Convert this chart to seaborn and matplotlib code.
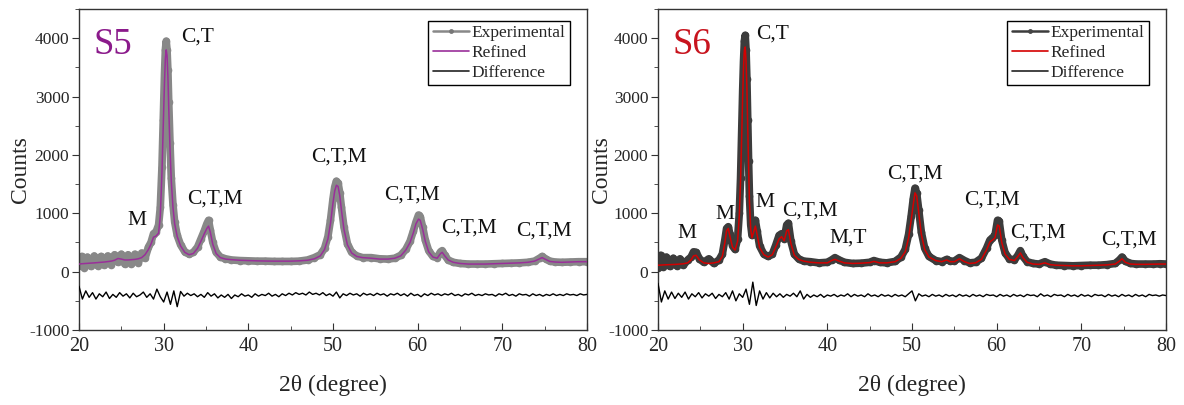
import numpy as np
import pandas as pd
import seaborn as sns
import matplotlib
matplotlib.use("Agg")
import matplotlib.pyplot as plt
from matplotlib.lines import Line2D
from matplotlib.ticker import MultipleLocator

# ---------------- data ----------------
s5_x = [20.0, 20.3, 20.6, 21.0, 21.4, 21.8, 22.2, 22.6, 23.0, 23.4, 23.8, 24.2, 24.6, 25.0, 25.4,
        25.8, 26.2, 26.6, 27.0, 27.4, 27.8, 28.2, 28.5, 28.8, 29.1, 29.4, 29.6, 29.8, 29.95, 30.1,
        30.2, 30.3, 30.4, 30.5, 30.6, 30.75, 30.9, 31.1, 31.3, 31.6, 32.0, 32.5, 33.0, 33.5, 34.0,
        34.4, 34.8, 35.1, 35.3, 35.5, 35.8, 36.2, 36.7, 37.3, 38.0, 39.0, 40.0, 41.0, 42.0, 43.0,
        44.0, 45.0, 46.0, 47.0, 47.8, 48.5, 49.0, 49.4, 49.7, 50.0, 50.2, 50.4, 50.6, 50.8, 51.0,
        51.3, 51.7, 52.2, 52.8, 53.5, 54.5, 55.5, 56.5, 57.3, 58.0, 58.6, 59.1, 59.5, 59.8, 60.1,
        60.3, 60.6, 60.9, 61.3, 61.8, 62.3, 62.7, 62.9, 63.2, 63.6, 64.2, 65.0, 66.0, 67.0, 68.0,
        69.0, 70.0, 71.0, 72.0, 73.0, 73.8, 74.4, 74.7, 75.1, 75.6, 76.2, 77.0, 78.0, 79.0, 80.0]
s5_exp = [90, 260, 70, 250, 90, 270, 100, 260, 110, 270, 120, 290, 160, 300, 130,
          290, 130, 300, 150, 320, 230, 420, 500, 650, 680, 800, 1100, 1800, 2600, 3400,
          3800, 3950, 3800, 3450, 2900, 2200, 1600, 1150, 850, 620, 460, 340, 300, 330, 420,
          560, 700, 820, 880, 720, 500, 330, 250, 220, 200, 190, 185, 180, 180, 175,
          175, 175, 180, 200, 240, 290, 400, 600, 880, 1250, 1450, 1550, 1520, 1350, 1100,
          760, 480, 330, 270, 240, 240, 220, 215, 230, 280, 380, 520, 700, 850, 970,
          940, 760, 540, 360, 260, 240, 340, 360, 280, 200, 160, 140, 130, 130, 130,
          135, 140, 145, 150, 160, 180, 230, 260, 220, 180, 165, 160, 165, 170, 170]
s5_fit = [130, 135, 138, 142, 146, 150, 155, 160, 165, 172, 180, 195, 225, 215, 200,
          200, 205, 210, 220, 240, 290, 380, 470, 590, 610, 660, 950, 1700, 2500, 3250,
          3650, 3800, 3700, 3350, 2800, 2100, 1550, 1100, 820, 600, 440, 330, 290, 310, 400,
          520, 650, 740, 780, 680, 470, 310, 240, 215, 205, 195, 190, 185, 182, 180,
          180, 180, 185, 195, 220, 270, 380, 560, 820, 1180, 1380, 1480, 1460, 1300, 1050,
          720, 460, 320, 260, 240, 230, 215, 215, 230, 270, 370, 500, 670, 820, 900,
          880, 720, 520, 340, 250, 230, 310, 330, 270, 200, 160, 140, 130, 130, 130,
          135, 140, 145, 150, 160, 180, 220, 240, 210, 175, 165, 160, 165, 170, 170]
s5_diff = [-250, -470, -330, -440, -360, -470, -380, -430, -350, -460, -390, -440, -360, -420, -380,
           -450, -370, -430, -400, -350, -440, -380, -470, -300, -430, -520, -350, -560, -330, -600,
           -340, -420, -370, -410, -380, -430, -390, -440, -360, -420, -380, -450, -400, -440, -390,
           -460, -400, -430, -380, -420, -400, -440, -380, -420, -390, -410, -370, -420, -390, -430,
           -380, -410, -370, -400, -360, -390, -370, -400, -350, -390, -370, -400, -360, -410, -380,
           -420, -350, -450, -380, -410, -370, -400, -380, -420, -370, -400, -380, -410, -370, -400,
           -380, -420, -380, -400, -370, -410, -380, -420, -370, -410, -390, -430, -380, -410, -370,
           -400, -380, -410, -380, -400, -370, -410, -390, -420, -380, -400, -370, -410, -390, -410,
           -380, -400, -390, -420, -380, -400, -370, -410, -390, -420, -380, -400, -390, -420, -380,
           -410, -390, -420, -390, -410, -380, -410, -390, -410, -380, -400, -390, -410, -380, -400,
           -390]

s6_x = [20.0, 20.3, 20.6, 21.0, 21.4, 21.8, 22.2, 22.6, 23.0, 23.5, 23.9, 24.2, 24.5, 24.9, 25.4,
        26.0, 26.6, 27.2, 27.6, 27.9, 28.1, 28.3, 28.5, 28.8, 29.1, 29.4, 29.6, 29.75, 29.9, 30.0,
        30.1, 30.2, 30.3, 30.4, 30.5, 30.6, 30.7, 30.8, 30.95, 31.1, 31.3, 31.5, 31.7, 32.0, 32.5,
        33.0, 33.5, 33.9, 34.3, 34.6, 34.9, 35.2, 35.4, 35.7, 36.1, 36.6, 37.2, 38.0, 39.0, 40.0,
        40.5, 40.9, 41.4, 42.0, 43.0, 44.0, 45.0, 45.5, 46.2, 47.0, 48.0, 48.7, 49.2, 49.6, 49.9,
        50.15, 50.35, 50.55, 50.8, 51.1, 51.5, 52.0, 52.8, 53.5, 54.1, 54.5, 55.0, 55.6, 56.2, 56.8,
        57.5, 58.2, 58.8, 59.2, 59.5, 59.8, 60.1, 60.3, 60.6, 61.0, 61.5, 62.1, 62.5, 62.8, 63.1,
        63.6, 64.3, 65.0, 65.7, 66.3, 67.0, 68.0, 69.0, 70.0, 71.0, 72.0, 73.0, 74.0, 74.5, 74.8,
        75.2, 75.8, 76.5, 77.5, 78.5, 79.3, 80.0]
s6_exp = [60, 280, 80, 250, 90, 230, 100, 220, 110, 200, 250, 340, 330, 220, 160,
          220, 140, 200, 300, 550, 740, 770, 640, 440, 380, 560, 1000, 1600, 2500, 3100,
          3600, 3950, 4050, 3800, 3300, 2600, 1900, 1300, 800, 620, 720, 880, 700, 440, 300,
          260, 300, 450, 620, 650, 560, 800, 830, 520, 300, 220, 180, 170, 150, 160,
          200, 240, 200, 160, 140, 145, 160, 190, 160, 150, 175, 250, 380, 640, 950,
          1250, 1430, 1350, 1050, 680, 400, 260, 190, 170, 210, 180, 180, 240, 190, 150,
          160, 230, 400, 540, 580, 620, 880, 860, 540, 320, 220, 200, 280, 360, 260,
          170, 140, 130, 170, 130, 110, 105, 100, 105, 110, 110, 120, 140, 200, 250,
          180, 140, 130, 130, 130, 135, 130]
s6_fit = [110, 112, 115, 118, 120, 122, 125, 130, 135, 150, 200, 270, 280, 200, 150,
          140, 150, 170, 260, 500, 700, 740, 600, 420, 370, 520, 950, 1550, 2400, 3000,
          3500, 3800, 3850, 3600, 3150, 2450, 1800, 1200, 720, 580, 680, 780, 640, 410, 290,
          250, 290, 420, 560, 600, 530, 700, 720, 480, 280, 210, 180, 160, 150, 150,
          190, 210, 180, 150, 140, 145, 155, 175, 150, 150, 170, 230, 340, 580, 880,
          1150, 1350, 1300, 1000, 640, 380, 250, 190, 170, 200, 170, 170, 220, 170, 140,
          150, 210, 370, 510, 540, 580, 800, 780, 500, 300, 210, 190, 260, 320, 240,
          160, 130, 125, 150, 120, 110, 105, 100, 100, 105, 110, 115, 130, 180, 220,
          160, 130, 125, 125, 128, 130, 130]
s6_diff = [-200, -520, -330, -470, -350, -460, -370, -440, -350, -470, -380, -430, -360, -450, -380,
           -420, -370, -460, -390, -430, -360, -470, -330, -500, -380, -440, -300, -560, -180, -580,
           -330, -470, -360, -450, -370, -430, -380, -440, -390, -420, -370, -430, -330, -470, -390,
           -440, -400, -430, -390, -440, -400, -420, -390, -430, -400, -420, -380, -430, -390, -420,
           -400, -430, -380, -420, -400, -430, -390, -420, -400, -430, -390, -420, -400, -430, -380,
           -330, -500, -380, -420, -400, -430, -390, -420, -400, -430, -390, -420, -400, -430, -390,
           -420, -400, -430, -390, -420, -400, -430, -390, -410, -400, -430, -390, -420, -400, -430,
           -390, -420, -400, -430, -390, -410, -400, -430, -380, -420, -400, -430, -390, -410, -400,
           -430, -390, -420, -400, -430, -390, -420, -400, -430, -390, -410, -400, -430, -390, -420,
           -400, -430, -390, -420, -400, -430, -390, -420, -400, -430, -390, -410, -400, -420, -400,
           -410]

labels_s5 = [("M", 26.8, 880), ("C,T", 34.0, 4025), ("C,T,M", 36.0, 1252), ("C,T,M", 50.7, 1955),
             ("C,T,M", 59.3, 1320), ("C,T,M", 66.0, 750), ("C,T,M", 74.9, 690)]
labels_s6 = [("M", 23.4, 650), ("M", 27.9, 980), ("C,T", 33.5, 4065), ("M", 32.6, 1190),
             ("C,T,M", 37.9, 1045), ("M,T", 42.5, 580), ("C,T,M", 50.4, 1680),
             ("C,T,M", 59.5, 1235), ("C,T,M", 64.9, 665), ("C,T,M", 75.6, 540)]

x_ticks = [20, 30, 40, 50, 60, 70, 80]
y_ticks = [-1000, 0, 1000, 2000, 3000, 4000]

# ---------------- style ----------------
sns.set_style("ticks")
plt.rcParams["font.family"] = ["Liberation Serif", "DejaVu Serif"]
plt.rcParams["axes.unicode_minus"] = False

W, H = 1184, 405
fig = plt.figure(figsize=(W / 100, H / 100), dpi=100)
ax1 = fig.add_axes([79 / W, (H - 330) / H, 508 / W, 321 / H])
ax2 = fig.add_axes([658 / W, (H - 330) / H, 508 / W, 321 / H])

panels = [
    (ax1, "S5", s5_x, s5_exp, s5_fit, s5_diff, labels_s5, "#888888", "#9a2f9a", "#8b1a8b", -0.115),
    (ax2, "S6", s6_x, s6_exp, s6_fit, s6_diff, labels_s6, "#3c3c3c", "#d40000", "#c8141e", -0.112),
]

for ax, name, xs, ye, yf, yd, labs, c_exp, c_fit, c_txt, ylab_x in panels:
    assert len(xs) == len(ye) == len(yf)
    dx = np.linspace(20, 80, len(yd))
    df = pd.DataFrame({"x": xs, "exp": ye, "fit": yf})
    dd = pd.DataFrame({"x": dx, "diff": yd})
    sns.lineplot(data=df, x="x", y="exp", ax=ax, color=c_exp, lw=5.5, marker="o",
                 markersize=5.5, markeredgewidth=0, sort=False, estimator=None, zorder=2)
    sns.lineplot(data=df, x="x", y="fit", ax=ax, color=c_fit, lw=1.1, sort=False,
                 estimator=None, zorder=3)
    sns.lineplot(data=dd, x="x", y="diff", ax=ax, color="black", lw=1.0, sort=False,
                 estimator=None, zorder=3)

    ax.set_xlim(20, 80)
    ax.set_ylim(-1000, 4500)
    ax.set_xticks(x_ticks)
    ax.set_yticks(y_ticks)
    ax.xaxis.set_minor_locator(MultipleLocator(5))
    ax.yaxis.set_minor_locator(MultipleLocator(500))
    ax.tick_params(axis="x", which="both", direction="in", labelsize=14.5, pad=5, color="#333333")
    ax.tick_params(axis="x", which="major", length=5)
    ax.tick_params(axis="x", which="minor", length=3)
    ax.tick_params(axis="y", which="both", direction="out", labelsize=12.5, pad=2, color="#333333")
    ax.tick_params(axis="y", which="major", length=5)
    ax.tick_params(axis="y", which="minor", length=3)
    for s in ax.spines.values():
        s.set_visible(True)
        s.set_color("#333333")
        s.set_linewidth(1.0)
    ax.set_xlabel("2θ (degree)", fontsize=17)
    ax.xaxis.set_label_coords(0.5, -0.174)
    ax.xaxis.label.set_va("center")
    ax.set_ylabel("Counts", fontsize=17)
    ax.yaxis.set_label_coords(ylab_x, 0.5)
    ax.yaxis.label.set_va("center")

    for t, tx, ty in labs:
        ax.text(tx, ty, t, fontsize=15.5, ha="center", va="center", color="#111111")
    ax.text(0.028, 0.888, name, transform=ax.transAxes, fontsize=26.5, color=c_txt,
            ha="left", va="center")

    handles = [
        Line2D([], [], color=c_exp, lw=1.8, marker="o", markersize=3.5,
               markerfacecolor="#444444" if name == "S6" else "#777777", markeredgewidth=0),
        Line2D([], [], color=c_fit, lw=1.2),
        Line2D([], [], color="#222222", lw=1.2),
    ]
    leg = ax.legend(handles, ["Experimental", "Refined", "Difference"], loc="upper right",
                    bbox_to_anchor=(0.9665, 0.9626), borderaxespad=0.0,
                    fontsize=12.5, frameon=True, fancybox=False, edgecolor="black",
                    framealpha=1, handlelength=2.1, handletextpad=0.15,
                    labelspacing=0.2, borderpad=0.25, numpoints=1)
    leg.get_frame().set_linewidth(1.0)

fig.savefig("out.png", dpi=100)
